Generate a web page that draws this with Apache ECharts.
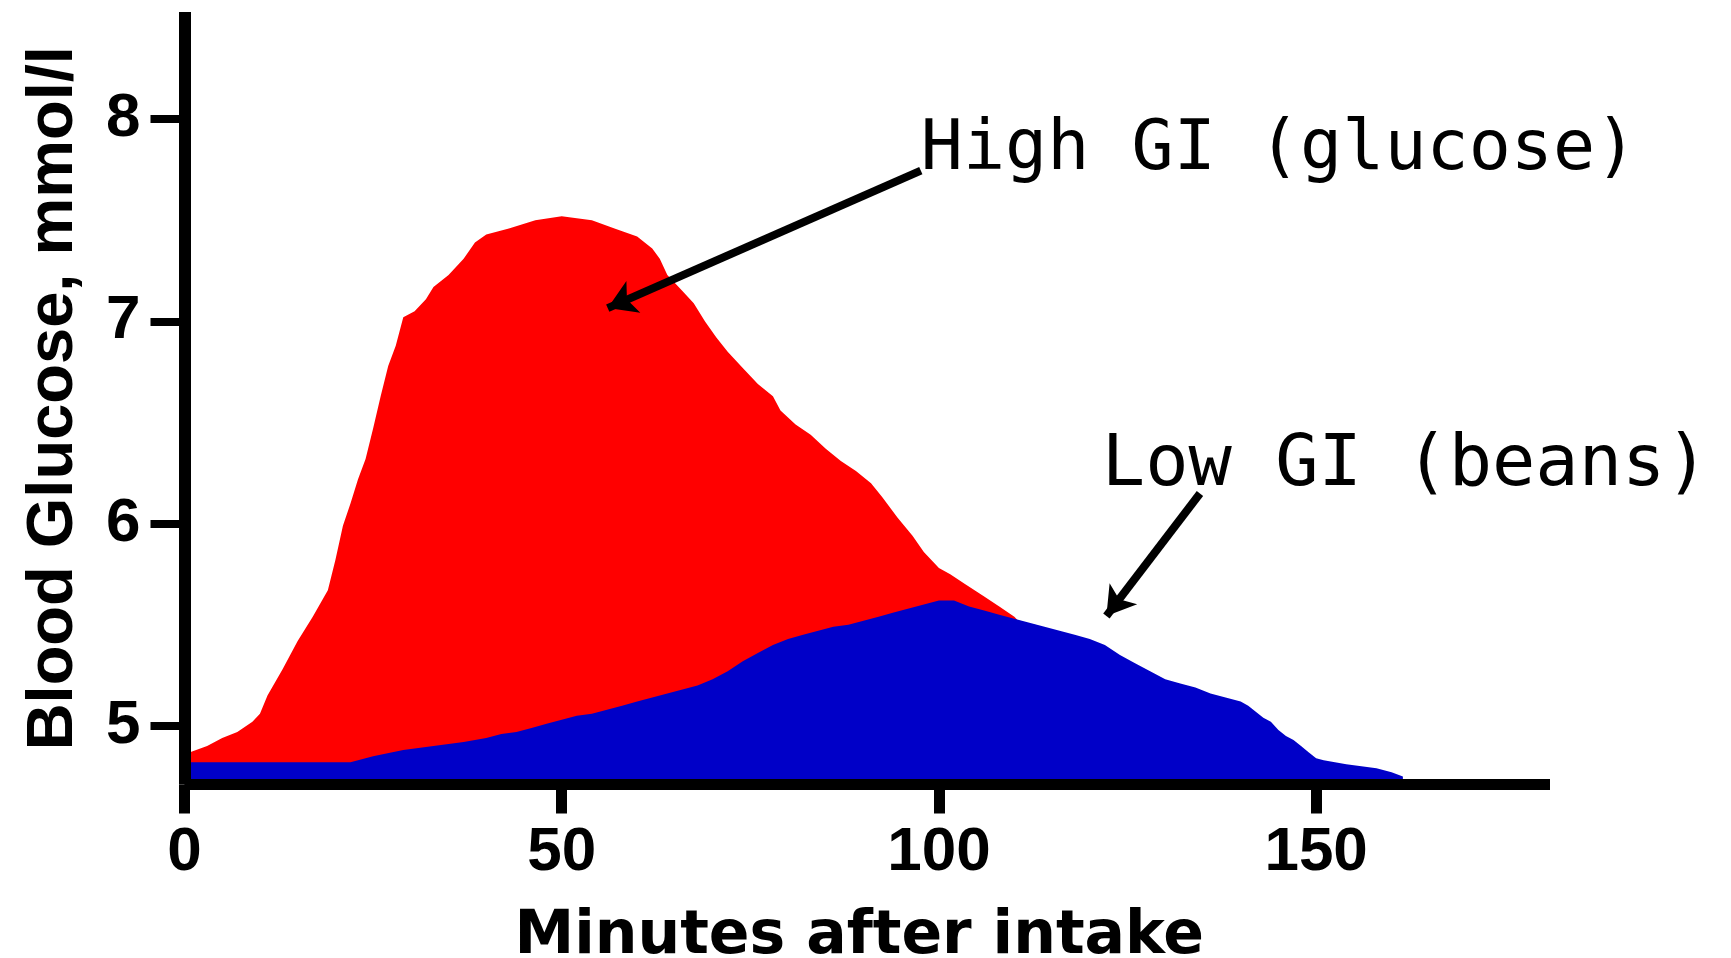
<!DOCTYPE html>
<html>
<head>
<meta charset="utf-8">
<style>
html,body{margin:0;padding:0;background:#fff;}
#chart{width:1731px;height:958px;}
</style>
<script src="https://cdn.jsdelivr.net/npm/echarts@6/dist/echarts.min.js"></script>
</head>
<body>
<div id="chart"></div>
<script>
// ---- data ----
const minutesHigh = [0,3,5,7,9,10,11,13,15,17,19,20,21,22,23,24,25,26,27,28,29,30.5,32,33,35,37,38.5,40,43,46.5,50,54,57,60,62,63,64,66,67.5,69,70.5,72,74,76,78,79,81,83,85,87,89,91,92.5,94.5,96.5,98,100,101.5,103.5,106,108,110,111];
const glucoseHigh = [4.86,4.90,4.94,4.97,5.02,5.06,5.15,5.28,5.42,5.54,5.67,5.82,5.99,6.10,6.22,6.32,6.47,6.63,6.78,6.88,7.02,7.05,7.11,7.17,7.23,7.31,7.39,7.43,7.46,7.50,7.52,7.50,7.46,7.42,7.36,7.31,7.23,7.15,7.09,7.00,6.92,6.85,6.77,6.69,6.63,6.56,6.49,6.44,6.37,6.31,6.26,6.20,6.13,6.03,5.94,5.86,5.78,5.75,5.70,5.64,5.59,5.54,5.50];
const minutesLow = [0,22,25,29,33,37,40,42,44,46,48,50,52,54,56,58,60,62,64,66,68,70,72,74,76,78,80,82,84,86,88,90,92,94,96,98,100,102,104,106,108,110,112,114,116,118,120,122,124,126,128,130,132,134,136,138,140,141,142,143,144,145,146,147,148,149,150,151,154,158,160,161.5];
const glucoseLow = [4.82,4.82,4.85,4.88,4.90,4.92,4.94,4.96,4.97,4.99,5.01,5.03,5.05,5.06,5.08,5.10,5.12,5.14,5.16,5.18,5.20,5.23,5.27,5.32,5.36,5.40,5.43,5.45,5.47,5.49,5.50,5.52,5.54,5.56,5.58,5.60,5.62,5.62,5.59,5.57,5.55,5.53,5.51,5.49,5.47,5.45,5.43,5.40,5.35,5.31,5.27,5.23,5.21,5.19,5.16,5.14,5.12,5.10,5.07,5.04,5.02,4.98,4.95,4.93,4.90,4.87,4.84,4.83,4.81,4.79,4.77,4.75];
const xTicks = [0,50,100,150];
const yTicks = [5,6,7,8];
const xName = 'Minutes after intake';
const yName = 'Blood Glucose, mmol/l';
const highLabel = 'High GI (glucose)';
const lowLabel = 'Low GI (beans)';
// annotation anchors in data coordinates [minutes, mmol/l]
const highTextAt = [97.6, 7.672];
const lowTextAt = [121.6, 6.105];
const highArrow = [[97.6, 7.746], [56.1, 7.066]];
const lowArrow = [[134.6, 6.149], [122.2, 5.543]];

const pairs = (xs, ys) => xs.map((x, i) => [x, ys[i]]);

const chart = echarts.init(document.getElementById('chart'), null, {renderer: 'canvas'});
const axisText = {fontFamily: 'Liberation Sans, Arial, sans-serif', fontWeight: 'bold', fontSize: 62, color: '#000'};
const annText = {fontFamily: 'DejaVu Sans Mono, monospace', color: '#000'};

chart.setOption({
  animation: false,
  backgroundColor: '#fff',
  grid: {left: 184.5, right: 181, top: 12, bottom: 173.5, containLabel: false, outerBoundsMode: 'none'},
  xAxis: {
    type: 'value', min: 0, max: 181, z: 10,
    name: xName, nameLocation: 'middle', nameGap: 123,
    nameTextStyle: {fontFamily: 'DejaVu Sans, sans-serif', fontWeight: 'bold', fontSize: 60, color: '#000', padding: [0, 16, 0, 0]},
    axisLine: {show: true, lineStyle: {color: '#000', width: 11, cap: 'butt'}},
    axisTick: {show: true, customValues: xTicks, length: 29, lineStyle: {color: '#000', width: 11}},
    axisLabel: Object.assign({customValues: xTicks, margin: 37}, axisText),
    splitLine: {show: false}
  },
  yAxis: {
    type: 'value', min: 4.71, max: 8.53, z: 10,
    name: yName, nameLocation: 'middle', nameGap: 98, nameRotate: 90,
    nameTextStyle: {fontFamily: 'Liberation Sans, Arial, sans-serif', fontWeight: 'bold', fontSize: 65, color: '#000'},
    axisLine: {show: true, lineStyle: {color: '#000', width: 12, cap: 'butt'}},
    axisTick: {show: true, customValues: yTicks, length: 34, lineStyle: {color: '#000', width: 8}},
    axisLabel: Object.assign({customValues: yTicks, margin: 44}, axisText),
    splitLine: {show: false}
  },
  series: [
    {
      name: 'High GI (glucose)', type: 'line', data: pairs(minutesHigh, glucoseHigh),
      showSymbol: false, symbol: 'none', lineStyle: {width: 0}, areaStyle: {color: '#FF0000', opacity: 1},
      itemStyle: {color: '#FF0000'}, z: 2
    },
    {
      name: 'Low GI (beans)', type: 'line', data: pairs(minutesLow, glucoseLow),
      showSymbol: false, symbol: 'none', lineStyle: {width: 0}, areaStyle: {color: '#0000C8', opacity: 1},
      itemStyle: {color: '#0000C8'}, z: 3,
      markLine: {
        silent: true, symbol: ['none', 'arrow'], symbolSize: [26, 28],
        lineStyle: {color: '#000', width: 8, type: 'solid'}, label: {show: false}, z: 20,
        data: [
          [{coord: highArrow[0]}, {coord: highArrow[1]}],
          [{coord: lowArrow[0]}, {coord: lowArrow[1]}]
        ]
      },
      markPoint: {
        silent: true, symbol: 'circle', symbolSize: 0, z: 20,
        label: Object.assign({show: true, position: [0, 0], align: 'left', verticalAlign: 'bottom'}, annText),
        data: [
          {coord: highTextAt, value: highLabel, label: {formatter: highLabel, fontSize: 70}},
          {coord: lowTextAt, value: lowLabel, label: {formatter: lowLabel, fontSize: 72}}
        ]
      }
    }
  ]
});
</script>
</body>
</html>
